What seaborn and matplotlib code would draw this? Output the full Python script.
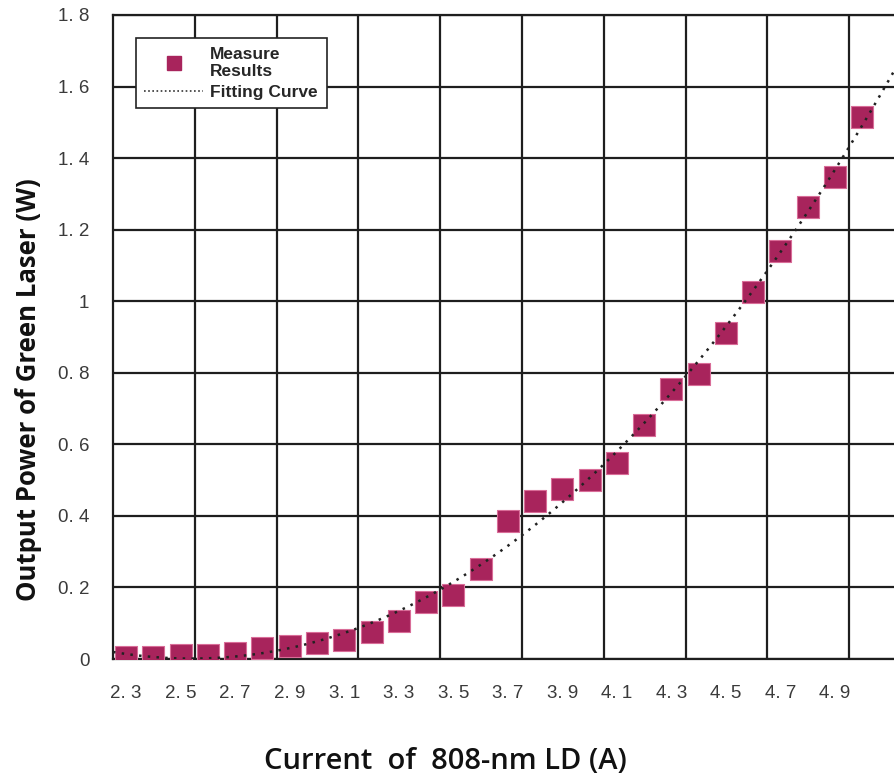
import matplotlib
matplotlib.use("Agg")
import matplotlib.pyplot as plt
from matplotlib.lines import Line2D
from matplotlib.ticker import FixedLocator, FuncFormatter
import numpy as np
import pandas as pd
import seaborn as sns

current = [2.3, 2.4, 2.5, 2.6, 2.7, 2.8, 2.9, 3.0, 3.1, 3.2, 3.3, 3.4, 3.5, 3.6,
           3.7, 3.8, 3.9, 4.0, 4.1, 4.2, 4.3, 4.4, 4.5, 4.6, 4.7, 4.8, 4.9, 5.0]
power = [0.005, 0.005, 0.010, 0.010, 0.017, 0.030, 0.037, 0.045, 0.053, 0.075,
         0.107, 0.160, 0.179, 0.252, 0.386, 0.442, 0.475, 0.500, 0.548, 0.654,
         0.755, 0.797, 0.911, 1.026, 1.141, 1.263, 1.347, 1.515]

x_labels = [2.3, 2.5, 2.7, 2.9, 3.1, 3.3, 3.5, 3.7, 3.9, 4.1, 4.3, 4.5, 4.7, 4.9]
y_ticks = [0, 0.2, 0.4, 0.6, 0.8, 1.0, 1.2, 1.4, 1.6, 1.8]

df = pd.DataFrame({"current": current, "power": power})

sns.set_style("white")
plt.rcParams["font.family"] = ["Liberation Sans", "DejaVu Sans"]

marker_color = "#A8245C"
grid_color = "#1e1e1e"

fig = plt.figure(figsize=(8.95, 7.81), dpi=100)
ax = fig.add_axes([0.1263, 0.1562, 0.8737, 0.8246])

x_lo, x_hi = 2.252, 5.12
ax.set_xlim(x_lo, x_hi)
ax.set_ylim(0, 1.8)

# grid runs every 0.3 A from the left edge, labels every 0.2 A
grid_x = [x_lo + 0.3 * k for k in range(1, 10)]
ax.xaxis.set_major_locator(FixedLocator(x_labels))
ax.xaxis.set_minor_locator(FixedLocator(grid_x))
ax.xaxis.set_major_formatter(FuncFormatter(lambda v, p: f"{v:.1f}".replace(".", ". ")))
ax.yaxis.set_major_locator(FixedLocator(y_ticks))
ax.yaxis.set_major_formatter(FuncFormatter(lambda v, p: f"{v:g}".replace(".", ". ")))

ax.grid(False)
ax.grid(which="minor", axis="x", color=grid_color, linewidth=1.6)
ax.grid(which="major", axis="y", color=grid_color, linewidth=1.6)
ax.set_axisbelow(True)

sns.regplot(data=df, x="current", y="power", order=3, ci=None, scatter=False,
            truncate=False, ax=ax,
            line_kws={"color": "#222222", "linestyle": (0, (1, 2.5)), "linewidth": 1.8, "zorder": 4})
sns.scatterplot(data=df, x="current", y="power", marker="s", s=250, color=marker_color,
                edgecolor="#d96d98", linewidth=0.8, ax=ax, zorder=3, legend=False)

for side in ["left", "top", "bottom"]:
    ax.spines[side].set_color(grid_color)
    ax.spines[side].set_linewidth(1.6)
ax.spines["right"].set_visible(False)

ax.tick_params(axis="both", length=0, labelsize=13.5, labelcolor="#3a3a3a")
ax.tick_params(axis="x", pad=19)
ax.tick_params(axis="y", pad=17)

label_font = ["Open Sans", "DejaVu Sans"]
ax.set_xlabel("Current  of  808-nm LD (A)", fontsize=21, fontweight="semibold",
              family=label_font, color="#111111")
ax.xaxis.set_label_coords(0.425, -0.137)
ax.set_ylabel("Output Power of Green Laser (W)", fontsize=18.5, fontweight="bold",
              family=label_font, color="#111111")
ax.yaxis.set_label_coords(-0.091, 0.418)

handles = [
    Line2D([], [], marker="s", linestyle="none", markersize=10, color=marker_color),
    Line2D([], [], linestyle=(0, (1, 1.5)), color="#333333", linewidth=1.2),
]
leg = ax.legend(handles, ["Measure\nResults", "Fitting Curve"], loc="upper left",
                bbox_to_anchor=(0.029, 0.964), borderaxespad=0, fancybox=False,
                framealpha=1, edgecolor="#222222", prop={"weight": "bold", "size": 12.5},
                handlelength=3.4, handletextpad=0.4, labelspacing=0.3, borderpad=0.5)
leg.get_frame().set_linewidth(1.2)
leg.set_zorder(5)

fig.savefig("out.png", dpi=100)
